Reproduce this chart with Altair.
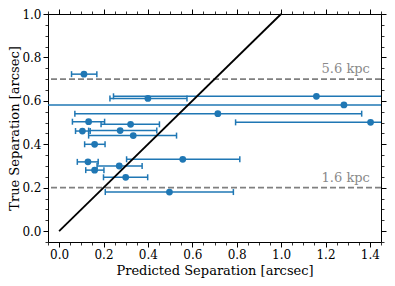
import altair as alt
import pandas as pd

# ---- data ----
pred = [0.112, 0.400, 1.159, 1.283, 0.715, 1.403, 0.133, 0.322, 0.105, 0.275,
        0.334, 0.160, 0.557, 0.130, 0.271, 0.160, 0.300, 0.497]
true_sep = [0.723, 0.611, 0.621, 0.581, 0.541, 0.501, 0.504, 0.492, 0.461, 0.463,
            0.440, 0.400, 0.331, 0.319, 0.300, 0.281, 0.248, 0.180]
pred_lo = [0.056, 0.229, 0.245, -0.40, 0.071, 0.795, 0.060, 0.189, 0.074, 0.133,
           0.133, 0.115, 0.304, 0.082, 0.171, 0.120, 0.200, 0.208]
pred_hi = [0.170, 0.576, 1.80, 2.60, 1.363, 2.00, 0.205, 0.452, 0.140, 0.440,
           0.529, 0.207, 0.814, 0.176, 0.374, 0.202, 0.399, 0.785]

kpc_sep = [0.7, 0.2]
kpc_labels = ["5.6 kpc", "1.6 kpc"]
kpc_label_x = [1.40, 1.40]

one_to_one = [0.0, 1.0]

x_major = [0.0, 0.2, 0.4, 0.6, 0.8, 1.0, 1.2, 1.4]
y_major = [0.0, 0.2, 0.4, 0.6, 0.8, 1.0]
x_minor = [round(-0.05 + 0.05 * i, 2) for i in range(31)]
y_minor = [round(-0.05 + 0.05 * i, 2) for i in range(22)]

df = pd.DataFrame({"pred": pred, "true": true_sep, "lo": pred_lo, "hi": pred_hi})
df_line = pd.DataFrame({"x": one_to_one, "y": one_to_one})
df_kpc = pd.DataFrame({"y": kpc_sep, "label": kpc_labels, "x": kpc_label_x})

BLUE = "#1f77b4"
FONT = "DejaVu Serif"

xs = alt.Scale(domain=[-0.05, 1.45], nice=False, zero=False)
ys = alt.Scale(domain=[-0.05, 1.0], nice=False, zero=False)


def major_axis(orient, values, title=None, labels=True, label_pad=3, title_pad=2):
    kw = dict(orient=orient, values=values, tickSize=5, tickWidth=1, tickColor="black",
              domain=False, grid=False, labels=labels, title=title)
    if labels:
        kw.update(format=".1f", labelFont=FONT, labelFontSize=12, labelColor="black",
                  labelPadding=label_pad, labelFlush=False, labelOverlap=False)
    if title:
        kw.update(titleFont=FONT, titleFontSize=13, titleFontWeight="normal",
                  titleColor="black", titlePadding=title_pad)
    return alt.Axis(**kw)


def minor_axis(orient, values):
    return alt.Axis(orient=orient, values=values, tickSize=3, tickWidth=0.8,
                    tickColor="black", domain=False, grid=False, labels=False, title=None)


dashed = alt.Chart(df_kpc).mark_rule(color="#808080", strokeWidth=1.8,
                                     strokeDash=[6, 3]).encode(
    y=alt.Y("y:Q", scale=ys, axis=None)
)

kpc_text = alt.Chart(df_kpc).mark_text(align="right", baseline="alphabetic", dy=-6,
                                       font=FONT, fontSize=13, color="#8a8a8a").encode(
    x=alt.X("x:Q", scale=xs, axis=None),
    y=alt.Y("y:Q", scale=ys, axis=None),
    text="label:N",
)

bars = alt.Chart(df).mark_rule(color=BLUE, strokeWidth=1.5, clip=True).encode(
    x=alt.X("lo:Q", scale=xs,
            axis=major_axis("bottom", x_major, "Predicted Separation [arcsec]",
                            label_pad=2, title_pad=4)),
    x2="hi:Q",
    y=alt.Y("true:Q", scale=ys,
            axis=major_axis("left", y_major, "True Separation [arcsec]",
                            label_pad=2, title_pad=0)),
)

caps_lo = alt.Chart(df).mark_tick(orient="vertical", size=6, thickness=1.5,
                                  color=BLUE, opacity=1, clip=True).encode(
    x=alt.X("lo:Q", scale=xs, axis=major_axis("top", x_major, labels=False)),
    y=alt.Y("true:Q", scale=ys, axis=major_axis("right", y_major, labels=False)),
)

caps_hi = alt.Chart(df).mark_tick(orient="vertical", size=6, thickness=1.5,
                                  color=BLUE, opacity=1, clip=True).encode(
    x=alt.X("hi:Q", scale=xs, axis=minor_axis("bottom", x_minor)),
    y=alt.Y("true:Q", scale=ys, axis=minor_axis("left", y_minor)),
)

points = alt.Chart(df).mark_circle(size=46, color=BLUE, opacity=1).encode(
    x=alt.X("pred:Q", scale=xs, axis=minor_axis("top", x_minor)),
    y=alt.Y("true:Q", scale=ys, axis=minor_axis("right", y_minor)),
)

diag = alt.Chart(df_line).mark_line(color="black", strokeWidth=1.8).encode(
    x=alt.X("x:Q", scale=xs, axis=None),
    y=alt.Y("y:Q", scale=ys, axis=None),
)

chart = alt.layer(dashed, kpc_text, bars, caps_lo, caps_hi, points, diag).resolve_axis(
    x="independent", y="independent"
).properties(
    width=333,
    height=228,
    autosize=alt.AutoSizeParams(type="none"),
    padding={"left": 40, "top": 6, "right": 6, "bottom": 36},
).configure_view(stroke="black", strokeWidth=1)

chart.save("out.html", embed_options={"renderer": "svg", "actions": False})
